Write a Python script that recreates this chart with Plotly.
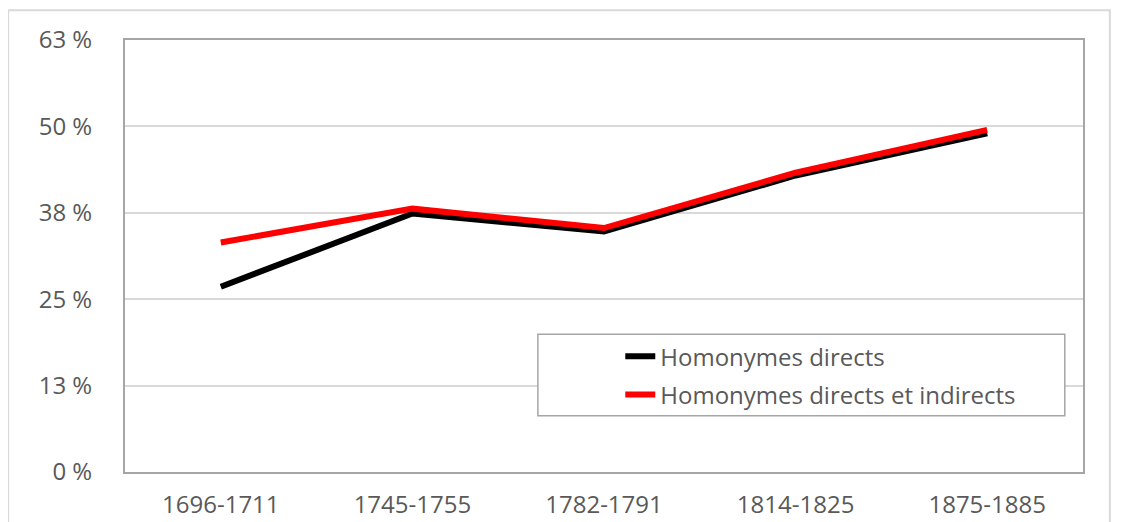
import plotly.graph_objects as go

periods = ["1696-1711", "1745-1755", "1782-1791", "1814-1825", "1875-1885"]
directs = [26.8, 37.4, 34.8, 42.9, 49.0]
directs_indirects = [33.2, 38.1, 35.3, 43.3, 49.5]
y_ticks = [0, 12.5, 25, 37.5, 50, 62.5]
y_ticktext = [f"{int(v + 0.5)} %" for v in y_ticks]

fig = go.Figure()
fig.add_trace(go.Scatter(x=periods, y=directs, mode="lines", name="Homonymes directs",
                         legendgroup="a", line=dict(color="black", width=6)))
fig.add_trace(go.Scatter(x=periods, y=directs_indirects, mode="lines",
                         name="Homonymes directs et indirects", legendgroup="b",
                         line=dict(color="#ff0000", width=6)))

font = dict(family="Open Sans", size=24, color="#595959")
fig.update_layout(
    width=1123, height=522,
    margin=dict(l=117, r=48, t=32, b=58, autoexpand=False),
    paper_bgcolor="white", plot_bgcolor="white",
    font=font,
    showlegend=True,
    legend=dict(x=0.517, y=0.319, xanchor="left", yanchor="top",
                borderwidth=0, bgcolor="rgba(0,0,0,0)",
                font=font, traceorder="grouped", tracegroupgap=4),
    xaxis=dict(type="category", range=[-0.5, 4.5], showgrid=False, showline=True,
               linecolor="#a6a6a6", linewidth=2, mirror=True, ticks="",
               tickfont=font, ticklabelstandoff=10),
    yaxis=dict(range=[0, 62.5], tickvals=y_ticks, ticktext=y_ticktext,
               showgrid=True, gridcolor="#d9d9d9", gridwidth=1.5,
               showline=True, linecolor="#a6a6a6", linewidth=2, mirror=True,
               ticks="", tickfont=font, zeroline=False, ticklabelstandoff=26),
    shapes=[
        dict(type="rect", xref="paper", yref="paper",
             x0=-0.122, x1=1.028, y0=-0.2, y1=1.069,
             line=dict(color="#d9d9d9", width=2), layer="below"),
        dict(type="rect", xref="paper", yref="paper",
             x0=0.431, x1=0.981, y0=0.130, y1=0.319,
             line=dict(color="#a6a6a6", width=1.5), fillcolor="white", layer="above"),
    ],
)
fig.write_html("out.html")
